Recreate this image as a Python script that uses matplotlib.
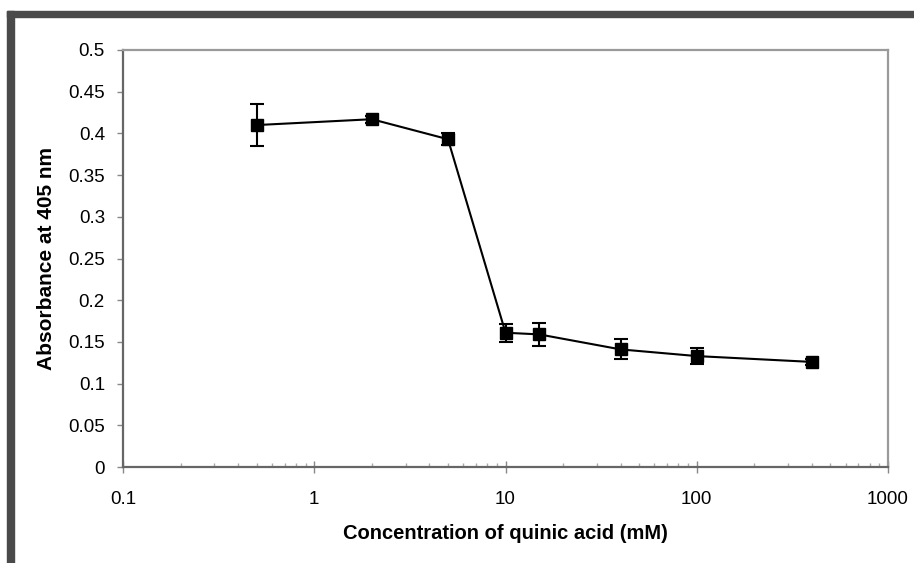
import matplotlib.pyplot as plt
from matplotlib.patches import Rectangle
from matplotlib.ticker import FuncFormatter, LogLocator, MultipleLocator

plt.rcParams['font.family'] = ['Liberation Sans', 'DejaVu Sans']

# quinic acid concentration (mM) vs absorbance at 405 nm
conc = [0.5, 2, 5, 10, 15, 40, 100, 400]
absorb = [0.410, 0.417, 0.393, 0.161, 0.159, 0.141, 0.133, 0.126]
err = [0.025, 0.004, 0.007, 0.011, 0.014, 0.012, 0.010, 0.004]

fig = plt.figure(figsize=(9.14, 5.63), dpi=100)
ax = fig.add_axes([0.1346, 0.1705, 0.837, 0.7407])

ax.errorbar(conc, absorb, yerr=err, color='black', lw=1.5, marker='s',
            ms=9, capsize=5, capthick=1.5, elinewidth=1.5)

ax.set_xscale('log')
ax.set_xlim(0.1, 1000)
ax.set_ylim(0, 0.5)
ax.yaxis.set_major_locator(MultipleLocator(0.05))
fmt = FuncFormatter(lambda v, p: '%g' % round(v, 4))
ax.yaxis.set_major_formatter(fmt)
ax.xaxis.set_major_locator(LogLocator(base=10, numticks=10))
ax.xaxis.set_major_formatter(fmt)
ax.xaxis.set_minor_locator(LogLocator(base=10, subs=range(2, 10), numticks=10))

ax.tick_params(axis='y', direction='out', length=4, width=1, color='#888888',
               labelsize=13.5, pad=9)
ax.tick_params(axis='x', which='major', direction='inout', length=8, width=1,
               color='#888888', labelsize=13.5, pad=13)
ax.tick_params(axis='x', which='minor', direction='in', length=3, width=1,
               color='#aaaaaa')

for s in ['left', 'bottom']:
    ax.spines[s].set_color('#666666')
    ax.spines[s].set_linewidth(1.6)
for s in ['top', 'right']:
    ax.spines[s].set_color('#9a9a9a')
    ax.spines[s].set_linewidth(1.6)

ax.set_xlabel('Concentration of quinic acid (mM)', fontsize=14.5, fontweight='bold', labelpad=12)
ax.set_ylabel('Absorbance at 405 nm', fontsize=15, fontweight='bold', labelpad=9)

# dark frame along top and left edge
fig.patches.append(Rectangle((7 / 914, 1 - 17 / 563), 1, 6 / 563,
                             transform=fig.transFigure, color='#4a4a4a', zorder=0))
fig.patches.append(Rectangle((7 / 914, 0), 7 / 914, 1 - 11 / 563,
                             transform=fig.transFigure, color='#4a4a4a', zorder=0))

fig.savefig('out.png', dpi=100)
